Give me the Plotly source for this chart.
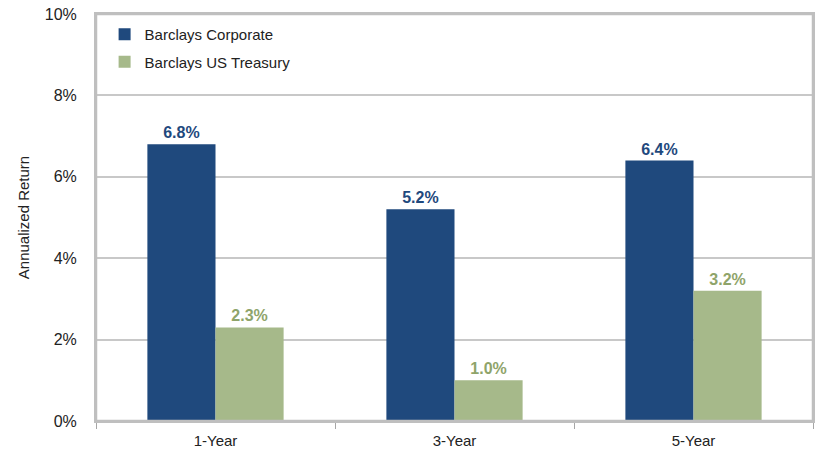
import plotly.graph_objects as go

categories = ["1-Year", "3-Year", "5-Year"]
corporate = [6.8, 5.2, 6.4]
treasury = [2.3, 1.0, 3.2]
series_names = ["Barclays Corporate", "Barclays US Treasury"]
y_ticks = [0, 2, 4, 6, 8, 10]
y_tick_labels = ["0%", "2%", "4%", "6%", "8%", "10%"]

blue = "#1F497D"
green = "#A6B98A"
font = "Liberation Sans"

fig = go.Figure()
fig.add_trace(go.Bar(
    x=categories, y=corporate, name=series_names[0], legendgroup="a",
    marker=dict(color=blue, line=dict(width=0)),
    texttemplate="%{y:.1f}%", textposition="outside", cliponaxis=False,
    textfont=dict(color=blue, size=16, family=font, weight="bold"),
))
fig.add_trace(go.Bar(
    x=categories, y=treasury, name=series_names[1], legendgroup="b",
    marker=dict(color=green, line=dict(width=0)),
    texttemplate="%{y:.1f}%", textposition="outside", cliponaxis=False,
    textfont=dict(color="#8FA46A", size=16, family=font, weight="bold"),
))

fig.add_shape(type="rect", xref="paper", yref="paper", x0=0, x1=1, y0=0, y1=1,
              line=dict(color="#BFBFBF", width=2.5), layer="above")

fig.update_layout(
    width=824, height=458,
    margin=dict(l=96, r=11, t=14, b=37, autoexpand=False),
    paper_bgcolor="white", plot_bgcolor="white",
    barmode="group", bargap=0.43, bargroupgap=0,
    font=dict(family=font, size=15, color="#222222"),
    legend=dict(x=0.012, y=0.99, xanchor="left", yanchor="top",
                bgcolor="rgba(0,0,0,0)", font=dict(size=15, color="#222222"),
                itemwidth=30, tracegroupgap=5),
    showlegend=True,
    xaxis=dict(
        showline=True, linecolor="#BFBFBF", linewidth=2, mirror=True,
        ticks="outside", tickson="boundaries", ticklen=6, tickcolor="#A6A6A6",
        tickfont=dict(size=15), showgrid=False, automargin=False,
        ticklabelstandoff=5,
    ),
    yaxis=dict(
        range=[0, 10], tickvals=y_ticks, ticktext=y_tick_labels,
        showline=True, linecolor="#BFBFBF", linewidth=2, mirror=True,
        showgrid=True, gridcolor="#C8C8C8", gridwidth=1.5,
        ticks="", ticklabelstandoff=14, tickfont=dict(size=16),
        title=dict(text="Annualized Return", font=dict(size=15), standoff=12),
        zeroline=False, automargin=False,
    ),
)

fig.write_html("out.html", config={"displayModeBar": False},
               post_script="document.body.style.margin='0';document.body.style.overflow='hidden';")
